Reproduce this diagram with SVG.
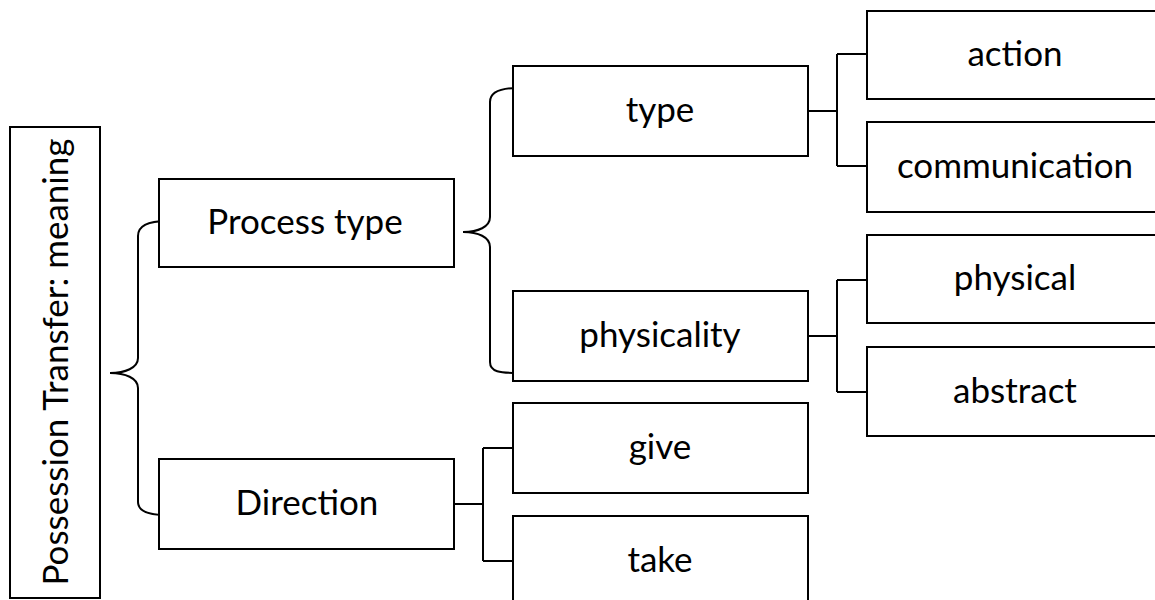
<svg xmlns="http://www.w3.org/2000/svg" width="1155" height="600" viewBox="0 0 1155 600">
<style>
.box{fill:#fff;stroke:#000;stroke-width:2}
.lbl{font-family:Lato,"Liberation Sans",sans-serif;font-size:35px;fill:#000;text-anchor:middle}
.con{fill:none;stroke:#000;stroke-width:2}
</style>
<rect width="1155" height="600" fill="#fff"/>
<g id="connectors">
<path class="con" d="M110,373 C125,373 138,368 138,358 L138,236 C138,225 150,221 167,221"/>
<path class="con" d="M110,373 C125,373 138,378 138,388 L138,502 C138,512 150,515 167,515"/>
<path class="con" d="M463,232 C478,232 490,227 490,217 L490,102 C490,92 500,88 518,88"/>
<path class="con" d="M463,232 C478,232 490,237 490,247 L490,362 C490,372 500,373 518,373"/>
<path class="con" d="M808,111 H837 M837,54 V166 M837,54 H867 M837,166 H867"/>
<path class="con" d="M808,336 H837 M837,280 V392 M837,280 H867 M837,392 H867"/>
<path class="con" d="M454,504 H483 M483,448 V561 M483,448 H513 M483,561 H513"/>
</g>
<g id="root"><rect class="box" x="10" y="127" width="90" height="471"/><text class="lbl" transform="translate(68,362) rotate(-90)">Possession Transfer: meaning</text></g>
<g id="process-type"><rect class="box" x="159" y="179" width="295" height="88"/><text class="lbl" x="305" y="234">Process type</text></g>
<g id="direction"><rect class="box" x="159" y="459" width="295" height="90"/><text class="lbl" x="307" y="515">Direction</text></g>
<g id="type"><rect class="box" x="513" y="66" width="295" height="90"/><text class="lbl" x="660" y="122">type</text></g>
<g id="physicality"><rect class="box" x="513" y="291" width="295" height="90"/><text class="lbl" x="660" y="347">physicality</text></g>
<g id="give"><rect class="box" x="513" y="403" width="295" height="90"/><text class="lbl" x="660" y="459">give</text></g>
<g id="take"><rect class="box" x="513" y="516" width="295" height="100"/><text class="lbl" x="660" y="572">take</text></g>
<g id="action"><rect class="box" x="867" y="11" width="300" height="88"/><text class="lbl" x="1015" y="66">action</text></g>
<g id="communication"><rect class="box" x="867" y="122" width="300" height="90"/><text class="lbl" x="1015" y="178">communication</text></g>
<g id="physical"><rect class="box" x="867" y="235" width="300" height="88"/><text class="lbl" x="1015" y="290">physical</text></g>
<g id="abstract"><rect class="box" x="867" y="347" width="300" height="89"/><text class="lbl" x="1015" y="403">abstract</text></g>
</svg>
